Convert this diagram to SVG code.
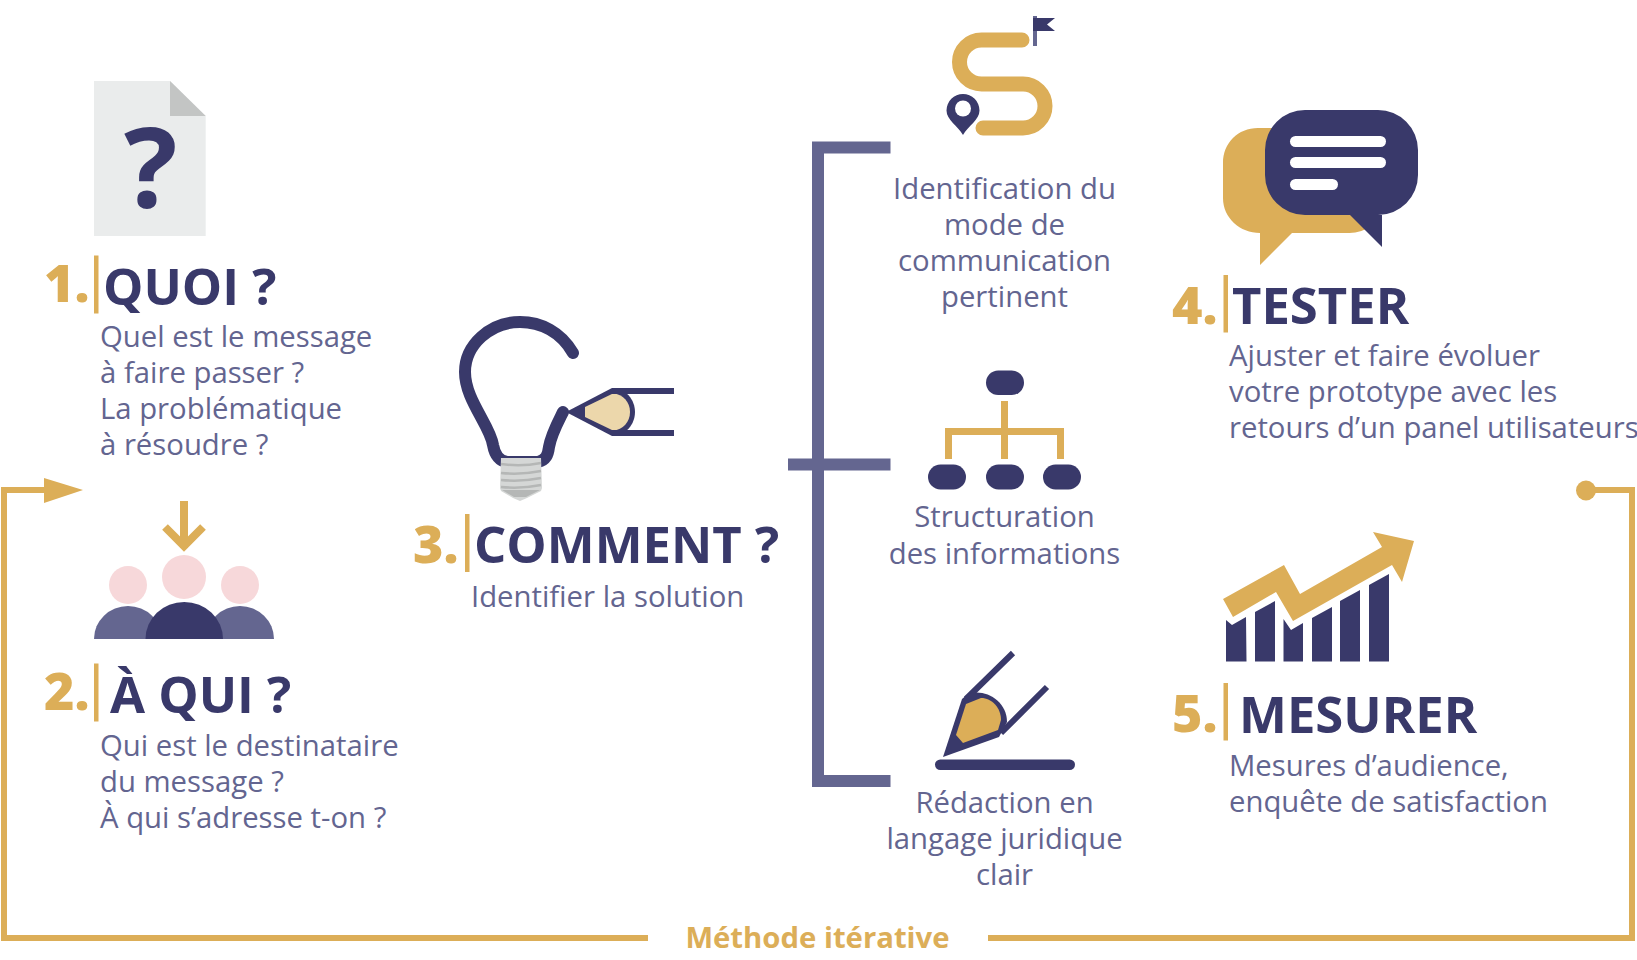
<svg xmlns="http://www.w3.org/2000/svg" width="1637" height="960" viewBox="0 0 1637 960">
<style>
text{font-family:"Open Sans","Liberation Sans",sans-serif}
.n{font-weight:800;font-size:52px;fill:#dcae58}
.t{font-weight:700;font-size:50.800px;fill:#39396a}
.b{font-size:29.300px;fill:#636590}
.c{text-anchor:middle}
.gold{fill:#dcae58}.navy{fill:#39396a}.mid{fill:#646690}.pink{fill:#f7d8da}
.ln{fill:none;stroke:#39396a}
</style>
<rect width="1637" height="960" fill="#fff"/>
<g id="connectors">
<path d="M648,938H4V490H50" fill="none" stroke="#dcae58" stroke-width="6"/>
<polygon class="gold" points="44,478 83,490 44,503"/>
<path d="M988,938H1632V490H1586" fill="none" stroke="#dcae58" stroke-width="6"/>
<circle class="gold" cx="1586" cy="490.500" r="10"/>
<path d="M890.500,147.500H818V781H890.500M788,464.500H890.500" fill="none" stroke="#646690" stroke-width="12"/>
<text x="817.500" y="948" class="c" style="font-weight:700;font-size:29.300px;fill:#dcae58">Méthode itérative</text>
</g>
<g id="node-quoi">
<path d="M94,81H170L205.700,116V236H94Z" fill="#eaecec"/>
<path d="M170,81L205.700,116H170Z" fill="#c3c5c4"/>
<text x="124" y="208" style="font-weight:700;font-size:112px;fill:#39396a">?</text>
<text x="44" y="302" class="n">1.</text>
<rect class="gold" x="94" y="255.500" width="4.500" height="58"/>
<text x="103" y="304.500" class="t">QUOI ?</text>
<text x="100" y="347" class="b">Quel est le message</text>
<text x="100" y="383" class="b">à faire passer ?</text>
<text x="100" y="419" class="b">La problématique</text>
<text x="100" y="455" class="b">à résoudre ?</text>
</g>
<g id="node-aqui">
<path d="M184,501V548M165,527L184,546L203,527" fill="none" stroke="#dcae58" stroke-width="8"/>
<circle class="pink" cx="184" cy="577" r="22"/>
<circle class="pink" cx="128" cy="585" r="19"/>
<circle class="pink" cx="240" cy="585" r="19"/>
<path class="mid" d="M94,639A34,33 0 0 1 162,639Z"/>
<path class="mid" d="M206,639A34,33 0 0 1 274,639Z"/>
<path class="navy" d="M145.500,639A38.700,37 0 0 1 223,639Z"/>
<text x="44" y="709.500" class="n">2.</text>
<rect class="gold" x="94" y="663.500" width="4.500" height="58"/>
<text x="110" y="713" class="t">À QUI ?</text>
<text x="100" y="756" class="b">Qui est le destinataire</text>
<text x="100" y="792" class="b">du message ?</text>
<text x="100" y="828" class="b">À qui s’adresse t-on ?</text>
</g>
<g id="node-comment">
<path d="M573,353C561,332 541,322 520,322C490,322 465,345 465,372C465,400 490,425 493,445C495,456 500,461 507,462H538C546,460 548,455 549,447C551,435 557,424 563,412" class="ln" stroke-width="12" stroke-linecap="round"/>
<path d="M501,458H541L542,488L541,491L527,498L520,501L513,498L501,491L500,488Z" fill="#d5d7d6"/>
<path d="M502,490H540L526,497H514Z" fill="#b5b7b6"/>
<path d="M501,464Q521,467 541,463M501,473Q521,475 541,471M501,480Q521,482 541,478M501,487Q521,489 541,485" fill="none" stroke="#b5b7b6" stroke-width="2.500"/>
<path class="navy" d="M566,412L612,388C626,388 635,400 635,412C635,424 626,436 612,436Z"/>
<path d="M585,407L613,393.500C623,394 630,402 630,412C630,422 623,430 613,430.500L585,417Z" fill="#ecd7ab"/>
<path d="M612,391H674M612,433H674" class="ln" stroke-width="6"/>
<text x="413" y="563" class="n">3.</text>
<rect class="gold" x="465" y="514" width="4.500" height="58"/>
<text x="474" y="563" class="t">COMMENT ?</text>
<text x="471" y="607" class="b">Identifier la solution</text>
</g>
<g id="node-identification">
<path d="M1022,40H981.500A22,22 0 0 0 981.500,84H1023A22,22 0 0 1 1023,128H983" fill="none" stroke="#dcae58" stroke-width="15" stroke-linecap="round"/>
<rect class="mid" x="1033" y="16" width="4" height="30"/>
<polygon class="navy" points="1033,18 1055,18 1047,24.500 1055,31 1033,31"/>
<path class="navy" d="M963,135C958,126 946.500,120 946.500,110.500A16.500,16.500 0 0 1 979.500,110.500C979.500,120 968,126 963,135Z"/>
<circle cx="963" cy="108.500" r="8" fill="#fff"/>
<text x="1004.500" y="199" class="b c">Identification du</text>
<text x="1004.500" y="235" class="b c">mode de</text>
<text x="1004.500" y="271" class="b c">communication</text>
<text x="1004.500" y="307" class="b c">pertinent</text>
</g>
<g id="node-structuration">
<rect class="navy" x="986" y="370.500" width="38" height="24.500" rx="12.250"/>
<rect class="navy" x="928" y="464.500" width="38" height="25" rx="12.500"/>
<rect class="navy" x="986" y="464.500" width="38" height="25" rx="12.500"/>
<rect class="navy" x="1043" y="464.500" width="38" height="25" rx="12.500"/>
<path d="M1004.500,401V459M948.500,459V431.500H1060.500V459" fill="none" stroke="#dcae58" stroke-width="7"/>
<text x="1004.500" y="527" class="b c">Structuration</text>
<text x="1004.500" y="564" class="b c">des informations</text>
</g>
<g id="node-redaction">
<path d="M1013,653L966,699M1047,687L1001,733" class="ln" stroke-width="6"/>
<path class="navy" d="M943,757L962,699L968,694C984,688 1007,700 1007,722L999,737Z"/>
<path class="gold" d="M956,735L966,704L981,698C992,698 1001,708 1001,720L998,730L963,743Z"/>
<rect class="navy" x="935" y="759.500" width="140" height="10.500" rx="5.250"/>
<text x="1004.500" y="813" class="b c">Rédaction en</text>
<text x="1004.500" y="849" class="b c">langage juridique</text>
<text x="1004.500" y="885" class="b c">clair</text>
</g>
<g id="node-tester">
<path class="gold" d="M1258,128H1340C1360,128 1372,200 1372,215L1367,228C1360,233 1350,233 1345,233H1292L1260,265V233C1240,233 1223,218 1223,198V163C1223,143 1238,128 1258,128Z"/>
<path class="navy" d="M1305,110H1378A40,40 0 0 1 1418,150V175A40,40 0 0 1 1378,215H1382V247L1350,215H1305A40,40 0 0 1 1265,175V150A40,40 0 0 1 1305,110Z"/>
<rect x="1290" y="136" width="96" height="11" rx="5.500" fill="#fff"/>
<rect x="1290" y="157" width="96" height="11" rx="5.500" fill="#fff"/>
<rect x="1290" y="179" width="48" height="11" rx="5.500" fill="#fff"/>
<text x="1172" y="324" class="n">4.</text>
<rect class="gold" x="1223.500" y="275" width="4.500" height="57.500"/>
<text x="1232" y="324" class="t">TESTER</text>
<text x="1229" y="366" class="b">Ajuster et faire évoluer</text>
<text x="1229" y="402" class="b">votre prototype avec les</text>
<text x="1229" y="438" class="b">retours d’un panel utilisateurs</text>
</g>
<g id="node-mesurer">
<polygon class="gold" points="1223,599 1284,565 1300,594 1382,547 1373,532 1414,541 1402,582 1392,565 1293,621 1276,592 1233,617"/>
<polygon class="navy" points="1226,620 1232,625 1246,617 1246.500,661.500 1226,661.500"/>
<polygon class="navy" points="1255,612 1275,601 1275,661.500 1255,661.500"/>
<polygon class="navy" points="1283.500,619 1291,630 1303,623 1303,661.500 1283.500,661.500"/>
<polygon class="navy" points="1312,618 1332,607 1332,661.500 1312,661.500"/>
<polygon class="navy" points="1340,601 1360,590 1360,661.500 1340,661.500"/>
<polygon class="navy" points="1369,585 1389,574 1389,661.500 1369,661.500"/>
<text x="1172" y="732" class="n">5.</text>
<rect class="gold" x="1223.500" y="683" width="4.500" height="57.500"/>
<text x="1239" y="732.500" class="t">MESURER</text>
<text x="1229" y="776" class="b">Mesures d’audience,</text>
<text x="1229" y="812" class="b">enquête de satisfaction</text>
</g>
</svg>
